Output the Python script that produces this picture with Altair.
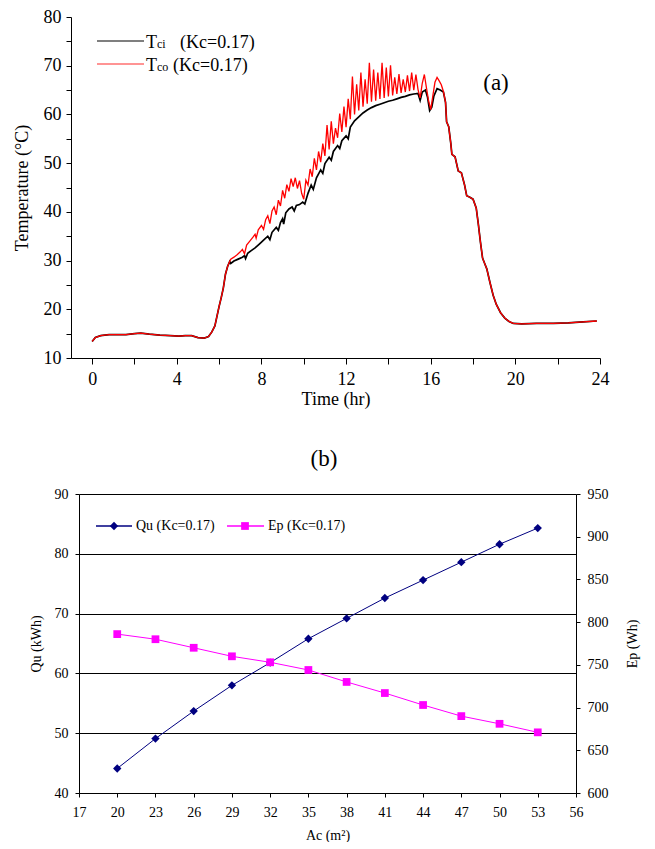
import altair as alt
import pandas as pd

SERIF = "Liberation Serif"

# ---------------- (a) temperature time series ----------------
# common part before the collector starts (both curves coincide)
early_t = [0.0, 0.15, 0.4, 0.8, 1.2, 1.6, 2.0, 2.3, 2.7, 3.2, 3.7, 4.1, 4.4, 4.7,
           5.0, 5.3, 5.5, 5.65, 5.8, 5.9, 6.0, 6.1, 6.2, 6.3, 6.4, 6.5]
early_v = [13.4, 14.2, 14.6, 14.8, 14.8, 14.8, 15.0, 15.1, 14.9, 14.7, 14.6, 14.5, 14.6, 14.6,
           14.2, 14.1, 14.4, 15.3, 16.6, 18.6, 20.6, 22.4, 24.4, 27.2, 28.8, 29.8]

# Tci (inlet) during the day
tci_t = [6.55, 6.7, 6.9, 7.1, 7.2, 7.25, 7.35, 7.5, 7.7, 7.9, 8.1, 8.3, 8.4, 8.5, 8.7, 8.8,
         8.9, 9.0, 9.05, 9.15, 9.3, 9.45, 9.55, 9.65, 9.8, 9.95, 10.05, 10.2, 10.35, 10.45,
         10.6, 10.8, 10.9, 11.0, 11.2, 11.3, 11.4, 11.6, 11.7, 11.8, 12.0, 12.1, 12.2, 12.4,
         12.6, 12.8, 13.0, 13.2, 13.4, 13.6, 13.8, 14.0, 14.2, 14.4, 14.6, 14.8, 15.0, 15.2,
         15.4, 15.5, 15.6, 15.75, 15.85, 15.95, 16.05, 16.15, 16.3, 16.45, 16.6]
tci_v = [29.4, 29.9, 30.3, 30.7, 31.0, 30.4, 31.5, 32.0, 32.6, 33.4, 34.2, 35.0, 34.3, 35.8,
         36.8, 36.2, 37.8, 38.6, 37.5, 39.8, 40.6, 41.0, 40.2, 41.3, 41.5, 42.0, 41.6, 43.8,
         45.5, 44.6, 47.0, 48.6, 47.9, 49.9, 51.2, 50.6, 52.4, 53.6, 53.0, 54.6, 55.6, 55.0,
         57.4, 58.7, 59.5, 60.3, 60.9, 61.4, 61.8, 62.1, 62.4, 62.7, 62.9, 63.2, 63.5, 63.7,
         64.0, 64.2, 64.3, 62.9, 64.6, 65.0, 63.5, 60.8, 61.5, 63.8, 65.3, 65.0, 64.6]

# Tco (outlet) during the day
tco_t = [6.55, 6.7, 6.85, 7.0, 7.1, 7.2, 7.3, 7.45, 7.6, 7.7, 7.75, 7.85, 8.0, 8.1, 8.2,
         8.3, 8.4, 8.5, 8.6, 8.7, 8.8, 8.9, 9.0, 9.1, 9.2, 9.3, 9.4, 9.5, 9.6, 9.7, 9.8,
         9.9, 10.0, 10.1, 10.2, 10.3, 10.4, 10.5, 10.6, 10.7, 10.8, 10.9, 11.0, 11.1, 11.2,
         11.3, 11.4, 11.5, 11.6, 11.7, 11.8, 11.9, 12.0, 12.1, 12.2, 12.3, 12.4, 12.5, 12.6,
         12.7, 12.8, 12.9, 13.0, 13.1, 13.2, 13.3, 13.4, 13.5, 13.6, 13.7, 13.8, 13.9, 14.0,
         14.1, 14.2, 14.3, 14.4, 14.5, 14.6, 14.7, 14.8, 14.9, 15.0, 15.1, 15.2, 15.3, 15.4,
         15.5, 15.6, 15.7, 15.8, 15.9, 16.0, 16.1, 16.2, 16.3, 16.4, 16.5, 16.6]
tco_v = [30.3, 30.7, 31.2, 31.8, 32.3, 31.4, 33.2, 34.0, 34.8, 35.4, 34.6, 36.3, 37.2, 36.4,
         38.4, 39.2, 37.6, 40.2, 41.0, 39.4, 42.4, 41.2, 44.4, 42.8, 45.6, 44.2, 46.8, 45.2,
         47.0, 44.8, 46.4, 43.8, 42.6, 46.5, 45.5, 48.8, 47.2, 51.0, 48.6, 52.4, 50.2, 54.0,
         51.5, 57.8, 52.8, 58.6, 54.0, 57.2, 55.2, 60.2, 56.4, 61.6, 57.4, 63.2, 59.0, 67.8,
         60.0, 66.2, 60.8, 68.6, 61.6, 67.2, 62.2, 70.6, 62.6, 69.2, 62.8, 68.6, 63.2, 70.6,
         63.4, 69.6, 63.7, 70.1, 63.9, 67.6, 64.2, 68.3, 64.4, 67.2, 64.6, 68.0, 64.8, 68.6,
         65.0, 68.2, 65.1, 63.4, 66.4, 68.2, 65.4, 62.8, 61.0, 63.8, 66.6, 67.6, 66.9, 66.1,
         64.7]

# common part after sunset (both curves coincide)
late_t = [16.7, 16.75, 16.85, 16.95, 17.0, 17.15, 17.3, 17.45, 17.6, 17.7, 17.85, 18.0,
          18.15, 18.25, 18.35, 18.45, 18.55, 18.65, 18.8, 18.95, 19.1, 19.3, 19.5, 19.7,
          19.9, 20.3, 21.0, 21.8, 22.5, 23.2, 23.85]
late_v = [62.5, 58.5, 57.5, 54.0, 51.8, 51.3, 48.4, 48.0, 45.5, 43.3, 43.0, 42.6,
          40.8, 37.5, 33.8, 30.5, 29.4, 28.3, 25.5, 22.9, 21.0, 19.3, 18.2, 17.5,
          17.1, 17.0, 17.1, 17.1, 17.2, 17.4, 17.6]

tci_df = pd.DataFrame({"t": early_t + tci_t + late_t, "T": early_v + tci_v + late_v})
tco_df = pd.DataFrame({"t": early_t + tco_t + late_t, "T": early_v + tco_v + late_v})

x_top = alt.X("t:Q", scale=alt.Scale(domain=[-1, 24], nice=False, zero=False),
              axis=alt.Axis(values=list(range(0, 25, 2)), title="Time (hr)",
                            labelExpr="datum.value % 4 == 0 ? datum.label : ''",
                            tickSize=6, labelPadding=6, titlePadding=2,
                            labelFontSize=18, titleFontSize=18, grid=False, labelFlush=False))
y_top = alt.Y("T:Q", scale=alt.Scale(domain=[10, 80], nice=False, zero=False),
              axis=alt.Axis(values=list(range(10, 81, 5)), title="Temperature (°C)",
                            labelExpr="datum.value % 10 == 0 ? datum.label : ''",
                            tickSize=5, labelPadding=5, titlePadding=12,
                            labelFontSize=18, titleFontSize=18, grid=False))

black_line = alt.Chart(tci_df).mark_line(color="#000000", strokeWidth=1.7).encode(x=x_top, y=y_top)
red_line = alt.Chart(tco_df).mark_line(color="#ff0000", strokeWidth=1.3).encode(x=x_top, y=y_top)

one = pd.DataFrame({"k": [0]})
leg_a = [
    alt.Chart(one).mark_rule(color="#555555", strokeWidth=1.5).encode(
        x=alt.value(26), x2=alt.value(73), y=alt.value(24)),
    alt.Chart(one).mark_rule(color="#ff7070", strokeWidth=1.5).encode(
        x=alt.value(26), x2=alt.value(73), y=alt.value(47)),
    alt.Chart(one).mark_text(text="T", font=SERIF, fontSize=18, align="left", baseline="alphabetic",
                             color="black").encode(x=alt.value(75), y=alt.value(30.5)),
    alt.Chart(one).mark_text(text="ci", font=SERIF, fontSize=12, align="left", baseline="alphabetic",
                             color="black").encode(x=alt.value(86), y=alt.value(30.5)),
    alt.Chart(one).mark_text(text="(Kc=0.17)", font=SERIF, fontSize=18, align="left",
                             baseline="alphabetic", color="black").encode(x=alt.value(109), y=alt.value(30.5)),
    alt.Chart(one).mark_text(text="T", font=SERIF, fontSize=18, align="left", baseline="alphabetic",
                             color="black").encode(x=alt.value(75), y=alt.value(53.5)),
    alt.Chart(one).mark_text(text="co", font=SERIF, fontSize=12, align="left", baseline="alphabetic",
                             color="black").encode(x=alt.value(86), y=alt.value(53.5)),
    alt.Chart(one).mark_text(text="(Kc=0.17)", font=SERIF, fontSize=18, align="left",
                             baseline="alphabetic", color="black").encode(x=alt.value(102), y=alt.value(53.5)),
    alt.Chart(one).mark_text(text="(a)", font=SERIF, fontSize=23, align="center", baseline="middle",
                             color="black").encode(x=alt.value(425), y=alt.value(66)),
]

top = alt.layer(black_line, red_line, *leg_a).properties(width=529, height=341)

# ---------------- (b) Qu and Ep vs collector area ----------------
ac = [20, 23, 26, 29, 32, 35, 38, 41, 44, 47, 50, 53]
qu = [44.1, 49.1, 53.7, 58.0, 61.8, 65.8, 69.2, 72.6, 75.6, 78.6, 81.6, 84.3]
ep = [786, 780, 770, 760, 753, 744, 730, 717, 703, 690, 681, 671]

bdf = pd.DataFrame({"Ac": ac, "Qu": qu, "Ep": ep})
NAVY = "#000080"
MAG = "#ff00ff"

x_bot = alt.X("Ac:Q", scale=alt.Scale(domain=[17, 56], nice=False, zero=False),
              axis=alt.Axis(values=list(range(17, 57, 3)), title="Ac (m²)", tickSize=4,
                            labelPadding=8, titlePadding=9, labelFontSize=14, titleFontSize=14,
                            grid=False, labelFlush=False))

qu_chart = alt.Chart(bdf).mark_line(
    color=NAVY, strokeWidth=1,
    point=alt.OverlayMarkDef(shape="diamond", size=70, filled=True, color=NAVY, opacity=1),
).encode(
    x=x_bot,
    y=alt.Y("Qu:Q", scale=alt.Scale(domain=[40, 90], nice=False, zero=False),
            axis=alt.Axis(values=[40, 50, 60, 70, 80, 90], title="Qu (kWh)", tickSize=4,
                          labelPadding=7, titlePadding=11, labelFontSize=14, titleFontSize=14,
                          grid=True, gridColor="#000000", gridWidth=1, gridOpacity=1)),
)

ep_chart = alt.Chart(bdf).mark_line(
    color=MAG, strokeWidth=1,
    point=alt.OverlayMarkDef(shape="square", size=60, filled=True, color=MAG, opacity=1),
).encode(
    x=x_bot,
    y=alt.Y("Ep:Q", scale=alt.Scale(domain=[600, 950], nice=False, zero=False),
            axis=alt.Axis(orient="right", values=list(range(600, 951, 50)), title="Ep (Wh)",
                          titleAngle=270, titleBaseline="top",
                          tickSize=4, labelPadding=7, titlePadding=17, labelFontSize=14,
                          titleFontSize=14, grid=False)),
)

leg_b = [
    alt.Chart(one).mark_rule(color=NAVY, strokeWidth=1.5).encode(
        x=alt.value(17), x2=alt.value(53), y=alt.value(32)),
    alt.Chart(one).mark_point(shape="diamond", size=70, filled=True, color=NAVY, opacity=1).encode(
        x=alt.value(35), y=alt.value(32)),
    alt.Chart(one).mark_text(text="Qu (Kc=0.17)", font=SERIF, fontSize=14, align="left",
                             baseline="middle", color="black").encode(x=alt.value(57), y=alt.value(32)),
    alt.Chart(one).mark_rule(color=MAG, strokeWidth=1.5).encode(
        x=alt.value(148), x2=alt.value(185), y=alt.value(32)),
    alt.Chart(one).mark_point(shape="square", size=60, filled=True, color=MAG, opacity=1).encode(
        x=alt.value(166), y=alt.value(32)),
    alt.Chart(one).mark_text(text="Ep (Kc=0.17)", font=SERIF, fontSize=14, align="left",
                             baseline="middle", color="black").encode(x=alt.value(189), y=alt.value(32)),
    alt.Chart(one).mark_text(text="(b)", font=SERIF, fontSize=23, align="center", baseline="middle",
                             color="black").encode(x=alt.value(245), y=alt.value(-35)),
]

bottom = alt.layer(qu_chart, ep_chart, *leg_b).resolve_scale(y="independent").properties(
    width=497, height=299)

spacer = alt.Chart(one).mark_point(opacity=0).encode(
    x=alt.X("k:Q", axis=None), y=alt.Y("k:Q", axis=None)).properties(width=8, height=299)

chart = alt.vconcat(
    top,
    alt.hconcat(spacer, bottom, spacing=0, bounds="flush"),
    spacing=136, bounds="flush",
).properties(
    padding={"left": 5, "top": 0, "right": 5, "bottom": 0}
).configure_view(stroke=None).configure_axis(
    labelFont=SERIF, titleFont=SERIF, labelColor="black", titleColor="black",
    domainColor="black", tickColor="black", titleFontWeight="normal", domainWidth=1, tickWidth=1,
).configure_text(font=SERIF)

chart.save("out.html", embed_options={"renderer": "svg", "actions": False})
